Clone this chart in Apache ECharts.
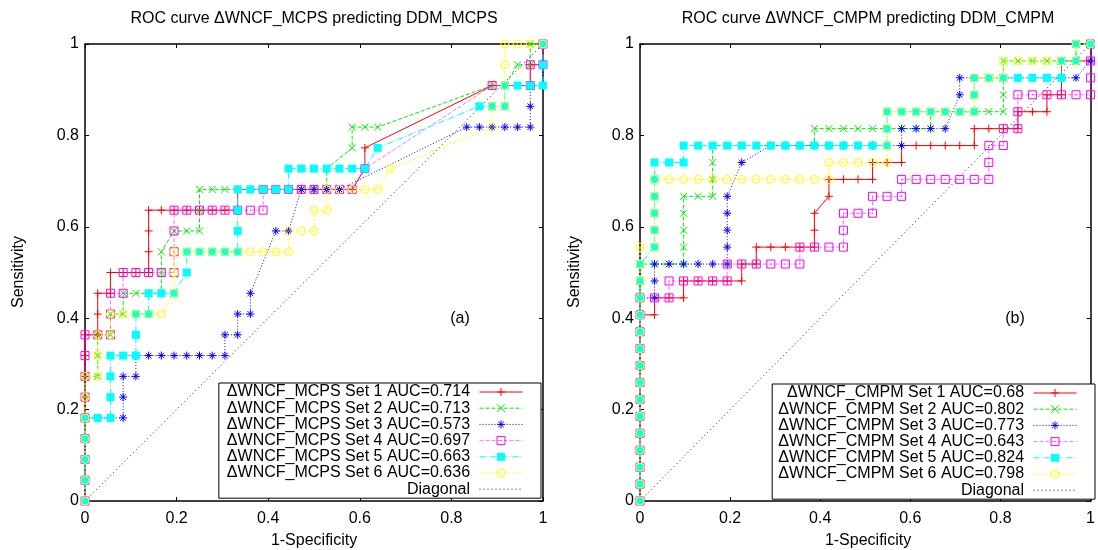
<!DOCTYPE html>
<html><head><meta charset="utf-8">
<script src="https://cdn.jsdelivr.net/npm/echarts@6/dist/echarts.min.js"></script>
<style>html,body{margin:0;padding:0;background:#fff}#c{width:1098px;height:550px}</style>
</head><body><div id="c"></div>
<script>
// ---- data (counts of false positives / true positives) ----
const NEG_A = 36, POS_A = 22;   // panel (a)
const NEG_B = 31, POS_B = 27;   // panel (b)

const tickLabels = ['0', '0.2', '0.4', '0.6', '0.8', '1'];

const namesA = ['ΔWNCF_MCPS Set 1 AUC=0.714', 'ΔWNCF_MCPS Set 2 AUC=0.713', 'ΔWNCF_MCPS Set 3 AUC=0.573',
                'ΔWNCF_MCPS Set 4 AUC=0.697', 'ΔWNCF_MCPS Set 5 AUC=0.663', 'ΔWNCF_MCPS Set 6 AUC=0.636'];
const namesB = ['ΔWNCF_CMPM Set 1 AUC=0.68', 'ΔWNCF_CMPM Set 2 AUC=0.802', 'ΔWNCF_CMPM Set 3 AUC=0.773',
                'ΔWNCF_CMPM Set 4 AUC=0.643', 'ΔWNCF_CMPM Set 5 AUC=0.824', 'ΔWNCF_CMPM Set 6 AUC=0.798'];

const a1 = [[0,0],[0,1],[0,2],[0,3],[0,4],[0,5],[0,6],[0,7],[0,8],[1,8],[1,9],[1,10],[2,10],[2,11],[3,11],[4,11],[5,11],[5,12],[5,13],[5,14],[6,14],[7,14],[8,14],[9,14],[10,14],[11,14],[12,14],[12,15],[13,15],[14,15],[15,15],[16,15],[17,15],[18,15],[19,15],[20,15],[21,15],[22,16],[22,17],[32,20],[35,20],[35,21],[36,21],[36,22]];
const a2 = [[0,0],[0,1],[0,2],[0,3],[0,4],[0,5],[0,6],[1,6],[1,7],[1,8],[2,8],[2,9],[3,9],[3,10],[4,10],[5,10],[6,10],[6,11],[6,12],[7,13],[8,13],[9,13],[9,14],[9,15],[10,15],[11,15],[12,15],[13,15],[14,15],[15,15],[16,15],[17,15],[18,15],[19,15],[19,16],[21,17],[21,18],[22,18],[23,18],[32,20],[33,20],[34,21],[35,21],[35,22],[36,22]];
const a3 = [[0,0],[0,1],[0,2],[0,3],[0,4],[1,4],[2,4],[3,4],[3,5],[3,6],[4,6],[4,7],[5,7],[6,7],[7,7],[8,7],[9,7],[10,7],[11,7],[11,8],[12,8],[12,9],[13,9],[13,10],[15,13],[16,13],[17,15],[18,15],[19,15],[20,15],[30,18],[31,18],[32,18],[33,18],[34,18],[35,18],[35,19],[35,20],[36,20],[36,22]];
const a4 = [[0,0],[0,1],[0,2],[0,3],[0,4],[0,5],[0,6],[0,7],[0,8],[1,8],[2,8],[2,9],[2,10],[3,10],[3,11],[4,11],[5,11],[6,11],[7,11],[7,12],[7,13],[7,14],[8,14],[9,14],[10,14],[11,14],[12,14],[13,14],[14,14],[14,15],[15,15],[16,15],[17,15],[18,15],[19,15],[20,15],[21,15],[22,16],[32,20],[35,20],[35,21],[36,21],[36,22]];
const a5 = [[0,0],[0,1],[0,2],[0,3],[0,4],[1,4],[2,4],[2,5],[2,6],[2,7],[3,7],[4,7],[4,8],[4,9],[5,9],[5,10],[6,10],[7,10],[8,11],[8,12],[9,12],[10,12],[11,12],[12,12],[12,13],[12,14],[12,15],[13,15],[14,15],[15,15],[16,15],[16,16],[17,16],[18,16],[19,16],[20,16],[21,16],[22,16],[23,17],[31,19],[32,19],[33,19],[33,20],[34,20],[35,20],[36,20],[36,21],[36,22]];
const a6 = [[0,0],[0,1],[0,2],[0,3],[0,4],[0,5],[0,6],[1,6],[1,7],[1,8],[2,8],[2,9],[3,9],[4,9],[5,9],[6,9],[7,10],[7,11],[7,12],[8,12],[9,12],[10,12],[11,12],[12,12],[13,12],[14,12],[15,12],[16,12],[16,13],[17,13],[18,13],[18,14],[19,14],[19,15],[20,15],[21,15],[22,15],[23,15],[24,16],[32,18],[32,19],[33,19],[33,20],[33,21],[33,22],[34,22],[35,22],[36,22]];

const b1 = [[0,0],[0,1],[0,2],[0,3],[0,4],[0,5],[0,6],[0,7],[0,8],[0,9],[0,10],[0,11],[1,11],[1,12],[2,12],[3,12],[3,13],[4,13],[5,13],[6,13],[7,13],[7,14],[8,14],[8,15],[9,15],[10,15],[11,15],[12,15],[12,16],[12,17],[13,18],[13,19],[14,19],[15,19],[16,19],[16,20],[17,20],[18,20],[18,21],[19,21],[20,21],[21,21],[22,21],[23,21],[23,22],[24,22],[25,22],[26,22],[26,23],[27,23],[28,23],[28,24],[29,24],[29,25],[29,26],[30,26],[31,26],[31,27]];
const b2 = [[0,0],[0,1],[0,2],[0,3],[0,4],[0,5],[0,6],[0,7],[0,8],[0,9],[0,10],[0,11],[0,12],[0,13],[0,14],[1,14],[2,14],[3,14],[3,15],[3,16],[3,17],[3,18],[4,18],[5,18],[5,19],[5,20],[5,21],[6,21],[7,21],[8,21],[9,21],[10,21],[11,21],[12,21],[12,22],[13,22],[14,22],[15,22],[16,22],[17,22],[18,22],[19,22],[20,22],[20,23],[21,23],[22,23],[23,23],[24,23],[25,23],[25,24],[25,25],[25,26],[26,26],[27,26],[28,26],[29,26],[30,26],[30,27],[31,27]];
const b3 = [[0,0],[0,1],[0,2],[0,3],[0,4],[0,5],[0,6],[0,7],[0,8],[0,9],[0,10],[0,11],[0,12],[1,12],[1,13],[1,14],[2,14],[3,14],[4,14],[5,14],[6,14],[6,15],[6,16],[6,17],[6,18],[7,20],[9,21],[10,21],[11,21],[12,21],[13,21],[14,21],[15,21],[16,21],[17,21],[18,21],[18,22],[19,22],[20,22],[21,22],[22,24],[22,25],[23,25],[24,25],[25,25],[26,25],[27,25],[28,25],[29,25],[30,25],[31,26],[31,27]];
const b4 = [[0,0],[0,1],[0,2],[0,3],[0,4],[0,5],[0,6],[0,7],[0,8],[0,9],[0,10],[0,11],[0,12],[1,12],[2,12],[2,13],[3,13],[4,13],[5,13],[6,13],[6,14],[7,14],[8,14],[9,14],[10,14],[11,14],[11,15],[12,15],[13,15],[14,15],[14,16],[14,17],[15,17],[16,17],[16,18],[17,18],[18,18],[18,19],[19,19],[20,19],[21,19],[22,19],[23,19],[24,19],[24,20],[24,21],[25,21],[25,22],[26,22],[26,23],[26,24],[27,24],[28,24],[29,24],[30,24],[31,24],[31,25],[31,26],[31,27]];
const b5 = [[0,0],[0,1],[0,2],[0,3],[0,4],[0,5],[0,6],[0,7],[0,8],[0,9],[0,10],[0,11],[0,12],[0,13],[0,14],[1,15],[1,16],[1,17],[1,18],[1,19],[1,20],[2,20],[3,20],[3,21],[4,21],[5,21],[6,21],[7,21],[8,21],[9,21],[10,21],[11,21],[12,21],[13,21],[14,21],[15,21],[16,21],[17,21],[17,22],[17,23],[18,23],[19,23],[20,23],[21,23],[22,23],[23,23],[23,24],[23,25],[24,25],[25,25],[26,25],[27,25],[28,25],[29,25],[29,26],[30,26],[30,27],[31,27]];
const b6 = [[0,0],[0,1],[0,2],[0,3],[0,4],[0,5],[0,6],[0,7],[0,8],[0,9],[0,10],[0,11],[0,12],[0,13],[0,14],[0,15],[1,15],[1,16],[1,17],[1,18],[1,19],[2,19],[3,19],[4,19],[5,19],[6,19],[7,19],[8,19],[9,19],[10,19],[11,19],[12,19],[13,19],[13,20],[14,20],[15,20],[16,20],[17,20],[17,21],[17,22],[17,23],[18,23],[19,23],[20,23],[21,23],[22,23],[23,23],[23,24],[23,25],[24,25],[25,25],[25,26],[26,26],[27,26],[28,26],[29,26],[30,26],[30,27],[31,27]];

const diagonal = [[0,0],[1,1]];

// ---- styles ----
const FONT = '"Liberation Sans", Arial, Helvetica, sans-serif';
const PLUS = 'path://M0,4L8,4M4,0L4,8';
const CROSS = 'path://M0,0L8,8M8,0L0,8';
const STAR = 'path://M0,4L8,4M4,0L4,8M1.2,1.2L6.8,6.8M6.8,1.2L1.2,6.8';
const BOXDOT = 'path://M0,0L8,0L8,8L0,8Z M3.5,4L4.5,4';
const CIRCDOT = 'path://M0,4A4,4,0,1,1,8,4A4,4,0,1,1,0,4Z M3.5,4L4.5,4';
const T = 'rgba(0,0,0,0)';
const styles = [
  {symbol: PLUS,   size: 8, color: '#ff0000', fill: '#ff0000', line: '#ff0000', dash: 'solid',   bw: 1, lop: 1},
  {symbol: CROSS,  size: 7, color: '#00ee00', fill: '#00ee00', line: '#00ee00', dash: [4, 2],    bw: 1, lop: 1},
  {symbol: STAR,   size: 8, color: '#0000ff', fill: '#0000ff', line: '#0000ff', dash: [1, 2],    bw: 1, lop: 1},
  {symbol: BOXDOT, size: 8, color: '#ff00ff', fill: T,         line: '#ff00ff', dash: [4, 2],    bw: 1, lop: 0.55},
  {symbol: 'rect', size: 8, color: '#00ffff', fill: '#00ffff', line: '#00ffff', dash: [6,2,1,2], bw: 0, lop: 1},
  {symbol: CIRCDOT,size: 8, color: '#ffff00', fill: T,         line: '#ffff00', dash: [2, 2],    bw: 1, lop: 1}
];

function mkSeries(name, pts, neg, pos, gi, st) {
  return {
    type: 'line', name: name, xAxisIndex: gi * 2, yAxisIndex: gi * 2,
    data: pts.map(p => [p[0] / neg, p[1] / pos]),
    symbol: st.symbol, symbolSize: st.size, showAllSymbol: true,
    lineStyle: {color: st.line, width: 1, type: st.dash, opacity: st.lop},
    itemStyle: {color: st.fill, borderColor: st.color, borderWidth: st.bw},
    animation: false, silent: true, emphasis: {disabled: true}
  };
}
function mkDiag(gi) {
  return {type: 'line', name: 'Diagonal', xAxisIndex: gi * 2, yAxisIndex: gi * 2, data: diagonal,
    symbol: 'circle', showSymbol: false, lineStyle: {color: '#222', width: 1, type: [1, 3]},
    itemStyle: {color: T}, animation: false, silent: true, emphasis: {disabled: true}};
}
function mkAxis(gi, position, showLabel, margin) {
  return {
    type: 'value', gridIndex: gi, position: position, min: 0, max: 1, interval: 0.2,
    axisLine: {show: true, onZero: false, lineStyle: {color: '#000', width: 1.5}},
    axisTick: {show: true, inside: true, length: 4, lineStyle: {color: '#000', width: 1}},
    axisLabel: {show: showLabel, margin: margin, color: '#000', fontSize: 16, fontFamily: FONT,
      formatter: v => tickLabels[Math.round(v * 5)]},
    splitLine: {show: false}
  };
}
function legendItems(names) {
  const items = names.map((n, i) => ({
    name: n,
    itemStyle: {color: styles[i].fill, borderColor: styles[i].color, borderWidth: styles[i].bw},
    lineStyle: {color: styles[i].line, width: 1, type: styles[i].dash, opacity: styles[i].lop}
  }));
  items.push({name: 'Diagonal', itemStyle: {color: T, borderColor: T, borderWidth: 0},
    lineStyle: {color: '#222', width: 1, type: [1, 3]}});
  return items;
}
function mkLegend(names, right, top, padLeft) {
  return {
    orient: 'vertical', align: 'right', right: right, top: top,
    itemWidth: 43, itemHeight: 10, itemGap: 0.2, padding: [1, 18, 1, padLeft],
    borderColor: '#000', borderWidth: 1, backgroundColor: '#fff',
    textStyle: {fontSize: 16, fontFamily: FONT, color: '#000'},
    formatter: '{name} ', selectedMode: false, data: legendItems(names)
  };
}
function txt(x, y, text, rot) {
  return {type: 'text', x: x, y: y, rotation: rot || 0, silent: true,
    style: {text: text, fill: '#000', font: '16px ' + FONT, align: 'center', verticalAlign: 'middle'}};
}

const seriesA = [a1, a2, a3, a4, a5, a6];
const seriesB = [b1, b2, b3, b4, b5, b6];
const series = [];
seriesA.forEach((d, i) => series.push(mkSeries(namesA[i], d, NEG_A, POS_A, 0, styles[i])));
series.push(mkDiag(0));
seriesB.forEach((d, i) => series.push(mkSeries(namesB[i], d, NEG_B, POS_B, 1, styles[i])));
series.push(mkDiag(1));

const chart = echarts.init(document.getElementById('c'), null, {renderer: 'canvas'});
chart.setOption({
  animation: false,
  backgroundColor: '#fff',
  grid: [
    {left: 85, top: 44, width: 458, height: 457},
    {left: 640, top: 44, width: 457, height: 457}
  ],
  xAxis: [mkAxis(0, 'bottom', true, 10), mkAxis(0, 'top', false, 10), mkAxis(1, 'bottom', true, 10), mkAxis(1, 'top', false, 10)],
  yAxis: [mkAxis(0, 'left', true, 6), mkAxis(0, 'right', false, 6), mkAxis(1, 'left', true, 6), mkAxis(1, 'right', false, 6)],
  legend: [mkLegend(namesA, 557, 383, 8), mkLegend(namesB, 3, 384, 6)],
  series: series,
  graphic: [
    txt(314, 19, 'ROC curve ΔWNCF_MCPS predicting DDM_MCPS'),
    txt(868, 19, 'ROC curve ΔWNCF_CMPM predicting DDM_CMPM'),
    txt(314, 541, '1-Specificity'),
    txt(868, 541, '1-Specificity'),
    txt(19, 272, 'Sensitivity', Math.PI / 2),
    txt(575, 272, 'Sensitivity', Math.PI / 2),
    txt(460, 319, '(a)'),
    txt(1015, 319, '(b)')
  ]
});
</script></body></html>
